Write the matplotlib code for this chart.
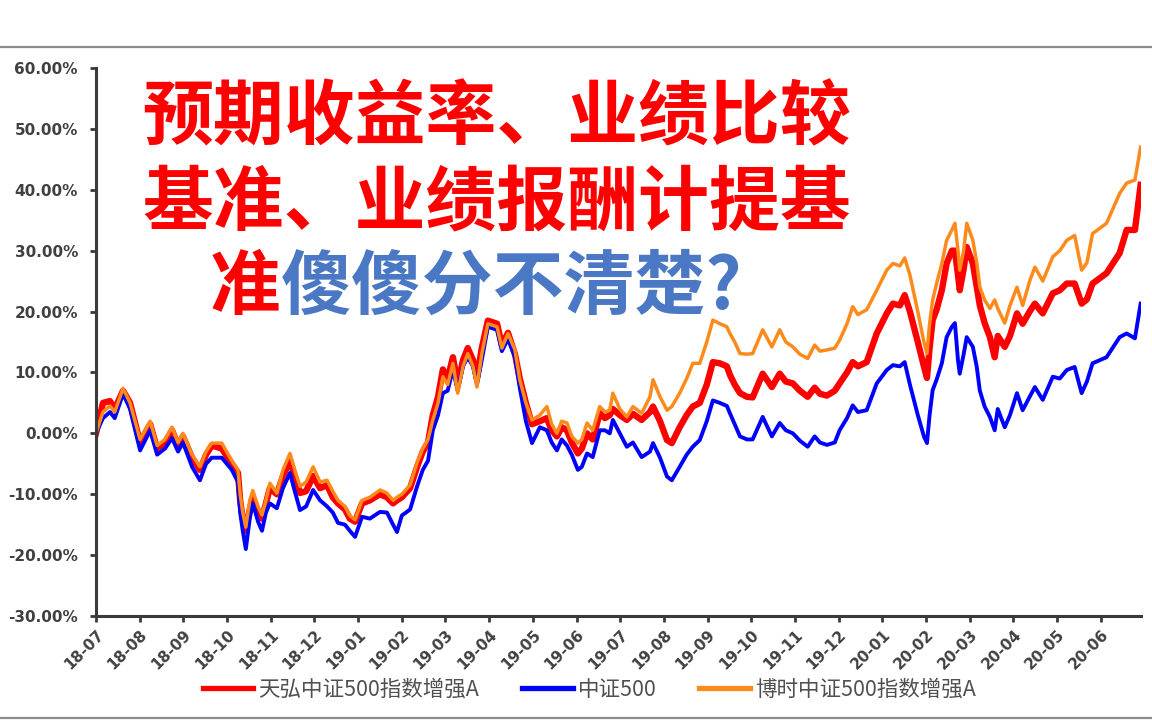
import matplotlib
matplotlib.use("Agg")
import matplotlib.pyplot as plt
from matplotlib.lines import Line2D
from matplotlib.ticker import FuncFormatter, MultipleLocator

# months since 2018-07
months = [0, 0.16, 0.32, 0.43, 0.62, 0.78, 1.01, 1.24, 1.40, 1.58, 1.74, 1.88, 1.99,
          2.20, 2.38, 2.52, 2.65, 2.88, 3.11, 3.25, 3.30, 3.36, 3.43, 3.52, 3.59, 3.71,
          3.80, 3.89, 3.98, 4.14, 4.28, 4.44, 4.55, 4.67, 4.81, 4.97, 5.13, 5.29, 5.42,
          5.54, 5.70, 5.81, 5.93, 6.09, 6.27, 6.50, 6.66, 6.80, 6.89, 7.00, 7.19, 7.35,
          7.48, 7.60, 7.71, 7.83, 7.94, 8.05, 8.17, 8.28, 8.40, 8.51, 8.63, 8.72, 8.83,
          8.97, 9.18, 9.29, 9.43, 9.59, 9.70, 9.84, 9.98, 10.16, 10.32, 10.43, 10.55,
          10.66, 10.78, 10.89, 11.03, 11.12, 11.24, 11.37, 11.53, 11.65, 11.76, 11.83,
          11.99, 12.15, 12.29, 12.49, 12.68, 12.75, 12.91, 13.07, 13.18, 13.36, 13.52,
          13.66, 13.82, 13.98, 14.12, 14.28, 14.44, 14.51, 14.62, 14.74, 14.90, 15.03,
          15.26, 15.47, 15.65, 15.79, 15.95, 16.11, 16.29, 16.45, 16.57, 16.73, 16.91,
          17.02, 17.19, 17.32, 17.44, 17.64, 17.87, 18.10, 18.24, 18.40, 18.51, 18.63,
          18.81, 18.95, 19.02, 19.08, 19.15, 19.24, 19.36, 19.47, 19.59, 19.66, 19.73,
          19.77, 19.86, 19.93, 20.07, 20.16, 20.23, 20.34, 20.46, 20.57, 20.64, 20.80,
          20.92, 21.08, 21.21, 21.37, 21.49, 21.67, 21.90, 22.06, 22.22, 22.40, 22.56,
          22.68, 22.81, 23.13, 23.43, 23.59, 23.78, 23.91]

tianhong = [0, 5, 5.3, 4, 7, 5, -1.5, 1.5, -2.5, -1.5, 0.5, -2, -0.5,
            -4, -6, -3.5, -2, -2.5, -5, -6.5, -11, -14, -16, -12.5, -10.5, -13,
            -14, -11.5, -9, -10, -7, -4.5, -7, -9.8, -9.5, -7, -9, -8.5, -10.5,
            -11.5, -12.5, -14, -14.5, -11.5, -11, -10, -10.5, -11.5, -11, -10.5, -9, -5.5,
            -3, -1.5, 3, 6, 10.5, 9, 12.5, 8, 12, 14, 12, 9, 14,
            18.5, 18, 14.5, 16.5, 13, 9, 5, 1.5, 2, 2.5, 0.5, -0.5,
            1, 0.5, -1.5, -3.3, -2.5, 0, -1, 3.3, 2.5, 3, 4,
            3, 2.2, 3.2, 2.2, 3.5, 4.4, 2, -1.1, -1.6, 1, 3,
            4.4, 5, 8, 11.7, 11.5, 11, 9.6, 8, 6.6, 6, 5.9,
            9.8, 7.6, 9.8, 8.5, 8.2, 7, 6, 7.5, 6.5, 6.2, 7,
            8.2, 10, 11.7, 11, 11.7, 16.4, 19.7, 21.3, 21, 22.7, 20,
            15, 11, 9.1, 14, 18.6, 20.3, 23.5, 27.9, 30, 30, 26,
            23.5, 27, 30.6, 27.9, 24, 21, 18.1, 15.8, 12.5, 16, 14.2,
            16, 19.7, 18, 20, 21.3, 19.7, 23, 23.5, 24.6, 24.6, 21.3,
            22, 24.6, 26.3, 29.6, 33.4, 33.4, 40.8]

csi500 = [0, 2.5, 3.5, 2.5, 6.5, 4, -2.8, 0.5, -3.5, -2.5, -0.8, -3, -1.5,
          -5.5, -7.7, -5, -4, -4, -6, -8, -13, -16, -19, -14, -11.5, -14.5,
          -16, -13, -11.5, -12.3, -9, -6.5, -9.5, -12.6, -12, -9.3, -11, -12, -13,
          -14.7, -15, -16, -17, -13.7, -14, -12.9, -13, -15, -16.2, -13.5, -12.5, -8.7,
          -6, -4.5, 0.5, 3, 6.6, 7, 10.5, 7, 11, 12.5, 11, 8, 12,
          17.5, 17, 13.5, 15.5, 12.5, 7.5, 2, -1.6, 1, 0.5, -1.5, -2.8,
          -1, -2, -3.5, -6, -5.5, -3.3, -3.9, 0.5, 0.5, 0, 2.2,
          0, -2.2, -1.5, -3.9, -3, -1.6, -4, -7.1, -7.7, -5.5, -3.5,
          -2.2, -1.1, 2, 5.4, 5, 4.5, 3.3, 1.5, -0.5, -1, -1,
          2.7, -0.5, 1.7, 0.5, 0, -1.2, -2.2, -0.5, -1.5, -1.9, -1.5,
          0.5, 2.5, 4.6, 3.5, 3.8, 8.2, 10.4, 11.2, 11, 11.7, 8,
          3, -0.5, -1.6, 3, 7.1, 8.8, 11.5, 15.8, 17.5, 18.1, 12,
          9.8, 13, 15.8, 14.2, 10.9, 7, 4.4, 2.7, 0.5, 4, 1,
          3, 6.6, 3.8, 6, 7.6, 5.5, 9.3, 9, 10.4, 10.9, 6.6,
          8.5, 11.5, 12.5, 15.8, 16.4, 15.6, 21.3]

boshi = [0, 3.5, 4.5, 3.5, 7.4, 5, -1, 2, -2, -1, 1, -1.5, 0,
         -3.5, -5.5, -3, -1.6, -1.6, -4.5, -6, -10, -13, -15.4, -11, -9.4, -12,
         -13.4, -11, -8.2, -9.8, -6, -3.3, -6, -8.7, -8, -5.5, -8, -7.7, -9.5,
         -11, -12, -13.5, -14.2, -11, -10.5, -9.3, -9.8, -11, -10.5, -10, -8.5, -4.8,
         -2.5, -1, 2.2, 5, 9.3, 8, 11.5, 6.6, 11, 13.1, 11, 7.6, 13,
         18, 17.5, 14, 16.4, 13.7, 8.8, 5, 2.2, 3, 4.4, 1.5, 0,
         2, 1.7, -0.5, -1.6, -1, 1.7, 0.5, 4.4, 3.5, 3.8, 6.6,
         4, 2.7, 4.4, 3.3, 6, 8.8, 6, 3.8, 4.4, 6.6, 9,
         11.5, 11.5, 15, 18.6, 18, 17.5, 16.4, 15, 13.1, 13, 13.1,
         17, 14.2, 17, 15, 14.2, 13, 12.3, 14.5, 13.5, 13.7, 14,
         15.3, 18, 20.8, 19.5, 20.3, 23.5, 26.8, 27.9, 27.5, 28.8, 26,
         20, 15, 13.1, 18, 21.9, 24.6, 27.9, 31.7, 33.4, 34.5, 30,
         26.8, 30, 34.5, 31.7, 28, 24, 21.9, 20.5, 21.9, 20.5, 18.1,
         21, 24, 21, 25, 27.3, 25, 29, 30, 31.7, 32.5, 26.8,
         28, 32.8, 34.5, 39.4, 41.1, 41.6, 47]

tick_labels = ["18-07", "18-08", "18-09", "18-10", "18-11", "18-12", "19-01", "19-02",
               "19-03", "19-04", "19-05", "19-06", "19-07", "19-08", "19-09", "19-10",
               "19-11", "19-12", "20-01", "20-02", "20-03", "20-04", "20-05", "20-06"]

series_names = ["天弘中证500指数增强A", "中证500", "博时中证500指数增强A"]

fig = plt.figure(figsize=(11.52, 7.2), dpi=100)
ax = fig.add_axes([0.0833, 0.1444, 0.9072, 0.7612])

ax.plot(months, tianhong, color="#ff0000", lw=4.6, label=series_names[0], solid_joinstyle="round")
ax.plot(months, csi500, color="#0000ff", lw=2.8, label=series_names[1], solid_joinstyle="round")
ax.plot(months, boshi, color="#ff8a1c", lw=2.5, label=series_names[2], solid_joinstyle="round")

ax.set_ylim(-30, 60)
ax.set_xlim(0, 23.92)
ax.yaxis.set_major_locator(MultipleLocator(10))
ax.yaxis.set_major_formatter(FuncFormatter(lambda v, p: f"{v:.2f}%"))
ax.set_xticks(range(len(tick_labels)))
ax.set_xticklabels(tick_labels, rotation=45, ha="right", rotation_mode="anchor")

for s in ["top", "right"]:
    ax.spines[s].set_visible(False)
for s in ["left", "bottom"]:
    ax.spines[s].set_color("#3a3a3a")
    ax.spines[s].set_linewidth(2.2)
ax.tick_params(axis="both", direction="out", length=4, width=2, color="#3a3a3a",
               labelcolor="#404040")
ax.tick_params(axis="y", pad=9)
ax.tick_params(axis="x", pad=4)
for lab in ax.get_yticklabels() + ax.get_xticklabels():
    lab.set_family(["DejaVu Sans"])
    lab.set_fontsize(11)
    lab.set_fontweight("bold")

leg = ax.legend(loc="center", bbox_to_anchor=(0.472, -0.135), ncol=3, frameon=False,
                prop={"family": ["Noto Sans CJK SC", "DejaVu Sans"], "size": 15.5},
                handlelength=2.35, columnspacing=2.0, handletextpad=0.23)
for t in leg.get_texts():
    t.set_color("#505050")
for h in leg.get_lines():
    h.set_linewidth(3.8)

# gray frame lines
fig.add_artist(Line2D([0, 1], [1 - 47 / 720, 1 - 47 / 720], color="#8c8c8c", lw=1.6,
                      transform=fig.transFigure))
fig.add_artist(Line2D([0, 1], [1 - 718 / 720, 1 - 718 / 720], color="#8c8c8c", lw=1.6,
                      transform=fig.transFigure))

cjk = ["Noto Sans CJK SC", "DejaVu Sans"]
fig.text(497 / 1152, 1 - 118 / 720, "预期收益率、业绩比较", color="#ff0000", fontsize=51,
         fontweight="bold", family=cjk, ha="center", va="center")
fig.text(497 / 1152, 1 - 203 / 720, "基准、业绩报酬计提基", color="#ff0000", fontsize=51,
         fontweight="bold", family=cjk, ha="center", va="center")
fig.text(210 / 1152, 1 - 288 / 720, "准", color="#ff0000", fontsize=51,
         fontweight="bold", family=cjk, ha="left", va="center")
fig.text(281 / 1152, 1 - 288 / 720, "傻傻分不清楚?", color="#4a78c4", fontsize=51,
         fontweight="bold", family=cjk, ha="left", va="center")

fig.savefig("out.png", dpi=100)
